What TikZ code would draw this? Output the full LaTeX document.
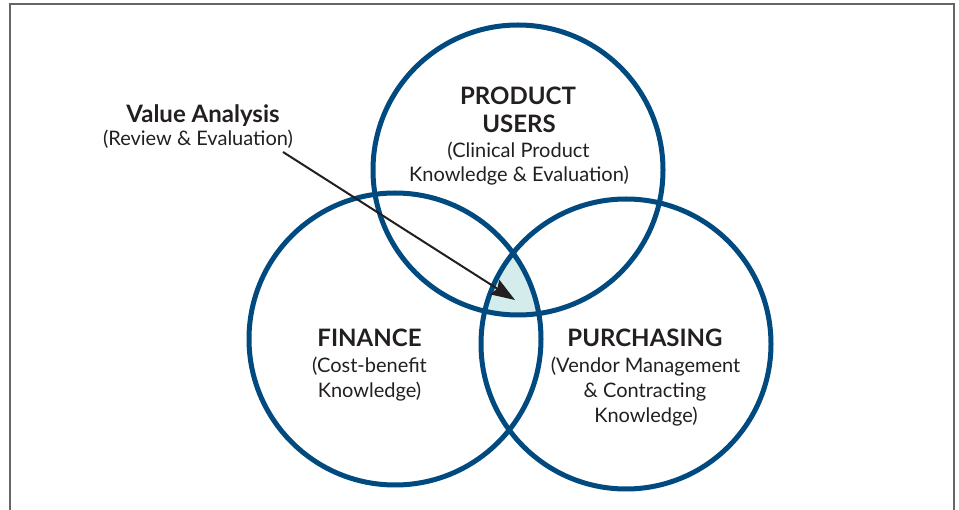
\documentclass[tikz,border=0pt]{standalone}
\usepackage{fontspec}
\setmainfont{Lato}
\usetikzlibrary{arrows.meta}
\definecolor{ringblue}{HTML}{004A80}
\definecolor{lensfill}{HTML}{D4ECEC}
\definecolor{ink}{HTML}{231F20}
\definecolor{framegray}{HTML}{666666}
\tikzset{
  ring/.style={circle, draw=ringblue, line width=5pt, inner sep=0pt, minimum size=#1},
  headtxt/.style={anchor=base, inner sep=0pt, text=ink, font=\fontsize{24}{28}\selectfont\bfseries},
  bodytxt/.style={anchor=base, inner sep=0pt, text=ink, font=\fontsize{20}{24}\selectfont},
  vahead/.style={anchor=base, inner sep=0pt, text=ink, font=\fontsize{24}{28}\selectfont\bfseries},
  pointer/.style={draw=ink, line width=2pt, -{Stealth[length=24pt,width=17pt,inset=3pt]}},
  framestyle/.style={draw=framegray, line width=2pt}
}
\begin{document}
\begin{tikzpicture}[x=1pt,y=-1pt]
\useasboundingbox (0,0) rectangle (959,510);
% frame
\coordinate (fbl) at (10,512);
\coordinate (ftl) at (10,4);
\coordinate (ftr) at (954,4);
\coordinate (fbr) at (954,512);
\draw[framestyle] (fbl) -- (ftl) -- (ftr) -- (fbr);
% centres
\coordinate (cT) at (518,170);
\coordinate (cL) at (395,339);
\coordinate (cR) at (626,344);
% shaded triple intersection
\begin{scope}
  \clip (cT) circle[radius=145];
  \clip (cL) circle[radius=146];
  \fill[lensfill] (cR) circle[radius=145];
\end{scope}
% circles
\node[ring=290pt] (users) at (cT) {};
\node[ring=292pt] (finance) at (cL) {};
\node[ring=290pt] (purch) at (cR) {};
% product users text
\node[headtxt] (u1) at (518,105) {PRODUCT};
\node[headtxt] (u2) at (519,133) {USERS};
\node[bodytxt] (u3) at (518.5,158) {(Clinical Product};
\node[bodytxt] (u4) at (519,182) {Knowledge \& Evaluation)};
% finance text
\node[headtxt] (f1) at (369.5,347) {FINANCE};
\node[bodytxt] (f2) at (369.5,373) {(Cost-benefit};
\node[bodytxt] (f3) at (369.5,398) {Knowledge)};
% purchasing text
\node[headtxt] (p1) at (645,347) {PURCHASING};
\node[bodytxt] (p2) at (645.5,373) {(Vendor Management};
\node[bodytxt] (p3) at (645,398) {\& Contracting};
\node[bodytxt] (p4) at (646,423) {Knowledge)};
% value analysis label
\node[vahead] (va1) at (203,123) {Value Analysis};
\node[bodytxt] (va2) at (198,146) {(Review \& Evaluation)};
\coordinate (vastart) at (283,152);
\coordinate (vatip) at (515,300);
\draw[pointer] (vastart) -- (vatip);
\end{tikzpicture}
\end{document}
